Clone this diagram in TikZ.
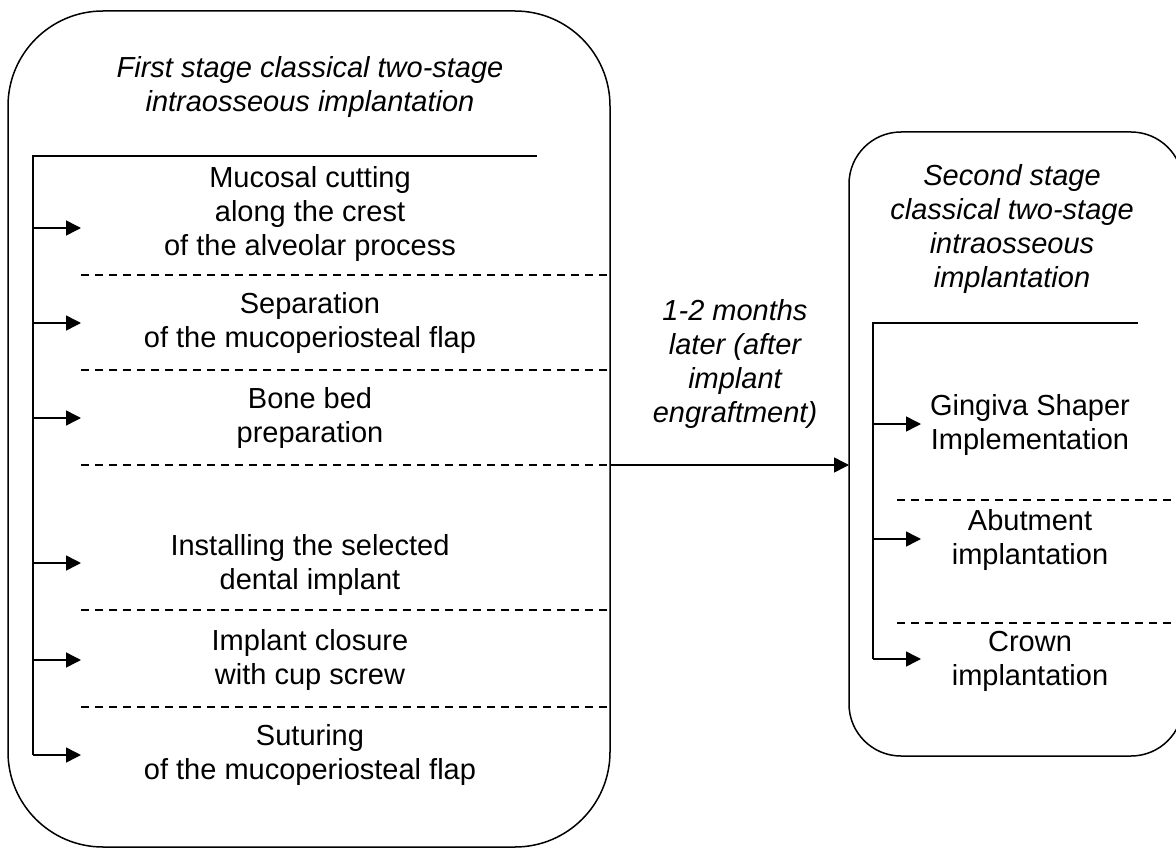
\documentclass[tikz,border=0pt]{standalone}
\usepackage{fontspec}
\setmainfont{Liberation Sans}
\usetikzlibrary{arrows.meta}

\tikzset{
  stagebox/.style={draw, line width=1.5pt, inner sep=0pt, outer sep=0pt},
  steptext/.style={align=center, inner sep=0pt, font=\fontsize{29}{34}\selectfont},
  titletext/.style={align=center, inner sep=0pt, font=\fontsize{29}{34}\selectfont\itshape},
  spine/.style={line width=1.5pt},
  flow/.style={line width=1.5pt, -{Triangle[length=15pt,width=15pt]}},
  divider/.style={line width=1.2pt, dash pattern=on 8pt off 6pt}
}

\begin{document}
\begin{tikzpicture}[x=1pt,y=-1pt]
  \useasboundingbox (0,0) rectangle (1176,848);
  \clip (0,0) rectangle (1176,848);

  % first stage
  \node[stagebox, rounded corners=95pt, minimum width=602pt, minimum height=836pt] (stage1) at (309,429) {};
  \node[titletext] (title1) at (310,87) {First stage classical two-stage\\intraosseous implantation};
  \coordinate (top1) at (537,156);
  \coordinate (root1) at (33,156);
  \coordinate (end1) at (33,755);
  \draw[spine] (top1) -- (root1) -- (end1);

  \foreach \i/\y/\txt in {1/214/{Mucosal cutting\\along the crest\\of the alveolar process},
                          2/323/{Separation\\of the mucoperiosteal flap},
                          3/418/{Bone bed\\preparation},
                          4/565/{Installing the selected\\dental implant},
                          5/660/{Implant closure\\with cup screw},
                          6/755/{Suturing\\of the mucoperiosteal flap}} {
    \node[steptext] (step\i) at (310,\y) {\txt};
  }
  \foreach \i/\y in {1/228,2/323,3/418,4/563,5/660,6/755} {
    \coordinate (from\i) at (33,\y);
    \coordinate (to\i) at (81,\y);
    \draw[flow] (from\i) -- (to\i);
  }
  \foreach \y in {275,370,465,610,707} {
    \draw[divider] (81,\y) -- (608,\y);
  }

  % second stage
  \node[stagebox, rounded corners=52pt, minimum width=334pt, minimum height=624pt] (stage2) at (1016,444) {};
  \node[titletext] (title2) at (1012,229) {Second stage\\classical two-stage\\intraosseous\\implantation};
  \coordinate (top2) at (1138,323);
  \coordinate (root2) at (873,323);
  \coordinate (end2) at (873,659);
  \draw[spine] (top2) -- (root2) -- (end2);

  \foreach \i/\y/\txt in {1/425/{Gingiva Shaper\\Implementation},
                          2/540/{Abutment\\implantation},
                          3/661/{Crown\\implantation}} {
    \node[steptext] (sub\i) at (1030,\y) {\txt};
  }
  \foreach \i/\y in {1/424,2/539,3/659} {
    \coordinate (subfrom\i) at (873,\y);
    \coordinate (subto\i) at (921,\y);
    \draw[flow] (subfrom\i) -- (subto\i);
  }
  \foreach \y in {500,623} {
    \draw[divider] (897,\y) -- (1176,\y);
  }

  % between the stages
  \coordinate (gapstart) at (stage1.east |- 0,465);
  \coordinate (gapend) at (stage2.west |- 0,465);
  \draw[flow] (gapstart) -- (gapend);
  \node[titletext] (gap) at (735,364) {1-2 months\\later (after\\implant\\engraftment)};
\end{tikzpicture}
\end{document}
